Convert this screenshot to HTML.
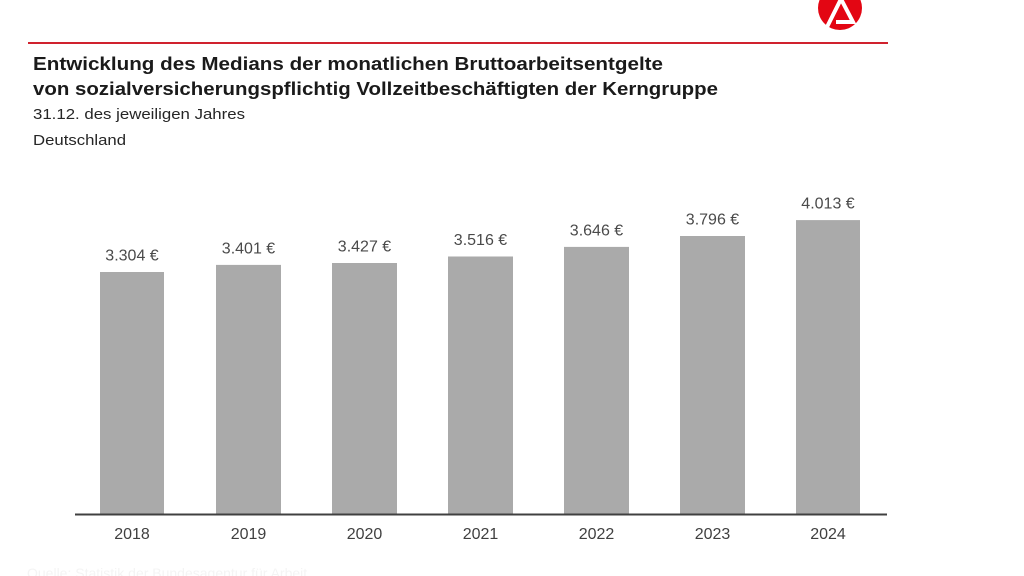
<!DOCTYPE html>
<html><head><meta charset="utf-8"><style>
html,body{margin:0;padding:0;background:#fff;}
svg{display:block;}
text{font-family:"Liberation Sans",Arial,sans-serif;}
</style></head><body>
<svg width="1024" height="576" viewBox="0 0 1024 576" xmlns="http://www.w3.org/2000/svg">
<rect width="1024" height="576" fill="#fff"/>
<!-- logo -->
<circle cx="840" cy="8" r="22" fill="#e30613"/>
<path d="M827 27 L841 -1 L853 22 L836 22" fill="none" stroke="#fff" stroke-width="4" stroke-linejoin="miter"/>
<!-- red rule -->
<rect x="28" y="42" width="860" height="2" fill="#d0222e"/>
<!-- titles -->
<text x="33" y="70" font-size="18" font-weight="bold" fill="#1a1a1a" textLength="630" lengthAdjust="spacingAndGlyphs">Entwicklung des Medians der monatlichen Bruttoarbeitsentgelte</text>
<text x="33" y="95" font-size="18" font-weight="bold" fill="#1a1a1a" textLength="685" lengthAdjust="spacingAndGlyphs">von sozialversicherungspflichtig Vollzeitbeschäftigten der Kerngruppe</text>
<text x="33" y="119" font-size="14.5" fill="#262626" textLength="212" lengthAdjust="spacingAndGlyphs">31.12. des jeweiligen Jahres</text>
<text x="33" y="145" font-size="14.5" fill="#262626" textLength="93" lengthAdjust="spacingAndGlyphs">Deutschland</text>
<!-- bars -->
<g fill="#aaaaaa">
<rect x="100" y="272" width="64" height="242"/>
<rect x="216" y="264.9" width="65" height="249.1"/>
<rect x="332" y="263" width="65" height="251"/>
<rect x="448" y="256.5" width="65" height="257.5"/>
<rect x="564" y="246.9" width="65" height="267.1"/>
<rect x="680" y="236" width="65" height="278"/>
<rect x="796" y="220.1" width="64" height="293.9"/>
</g>
<!-- axis -->
<rect x="75" y="513.5" width="812" height="2" fill="#404040"/>
<!-- value labels -->
<g font-size="16" fill="#4a4a4a" text-anchor="middle">
<text x="132" y="260.5">3.304 €</text>
<text x="248.5" y="253.4">3.401 €</text>
<text x="364.5" y="251.5">3.427 €</text>
<text x="480.5" y="245">3.516 €</text>
<text x="596.5" y="235.4">3.646 €</text>
<text x="712.5" y="224.5">3.796 €</text>
<text x="828" y="208.6">4.013 €</text>
</g>
<!-- year labels -->
<g font-size="16" fill="#404040" text-anchor="middle">
<text x="132" y="539">2018</text>
<text x="248.5" y="539">2019</text>
<text x="364.5" y="539">2020</text>
<text x="480.5" y="539">2021</text>
<text x="596.5" y="539">2022</text>
<text x="712.5" y="539">2023</text>
<text x="828" y="539">2024</text>
</g>
<!-- faint source line -->
<text x="27" y="578" font-size="14" fill="#f4f4f4">Quelle: Statistik der Bundesagentur für Arbeit</text>
</svg>
</body></html>
